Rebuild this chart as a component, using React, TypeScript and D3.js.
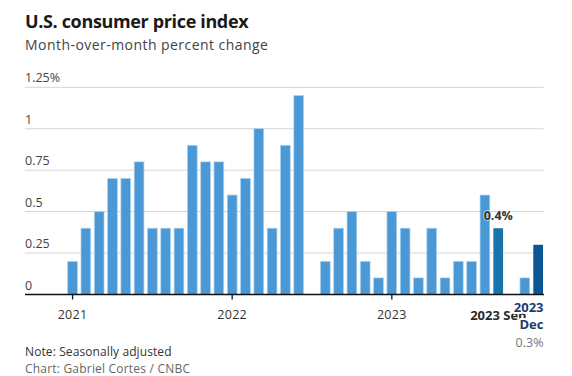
import React from "react";
import * as d3 from "d3";

const months: string[] = [];
for (const y of [2021, 2022, 2023]) {
  for (const m of ["Jan", "Feb", "Mar", "Apr", "May", "Jun", "Jul", "Aug", "Sep", "Oct", "Nov", "Dec"]) {
    months.push(`${y} ${m}`);
  }
}
const values2021 = [0.2, 0.4, 0.5, 0.7, 0.7, 0.8, 0.4, 0.4, 0.4, 0.9, 0.8, 0.8];
const values2022 = [0.6, 0.7, 1.0, 0.4, 0.9, 1.2, 0.0, 0.2, 0.4, 0.5, 0.2, 0.1];
const values2023 = [0.5, 0.4, 0.1, 0.4, 0.1, 0.2, 0.2, 0.6, 0.4, 0.0, 0.1, 0.3];
const values = [...values2021, ...values2022, ...values2023];
const yTicks = [0, 0.25, 0.5, 0.75, 1, 1.25];
const yTickLabels = ["0", "0.25", "0.5", "0.75", "1", "1.25%"];
const xTickMonths = ["2021 Jan", "2022 Jan", "2023 Jan"];
const xTickLabels = ["2021", "2022", "2023"];

const FONT = "'Open Sans', Lato, sans-serif";

export default function App() {
  const W = 572, H = 376;
  const x = d3.scaleBand<string>().domain(months).range([67.7, 543]).paddingInner(0.27).paddingOuter(0);
  const y = d3.scaleLinear().domain([0, 1.25]).range([294.5, 87.3]);
  const baseColor = "#4a98d6";
  const sepColor = "#1a72aa";
  const decColor = "#0d5593";
  const colorFor = (m: string) => (m === "2023 Sep" ? sepColor : m === "2023 Dec" ? decColor : baseColor);
  const cx = (m: string) => (x(m) as number) + x.bandwidth() / 2;
  const sepIdx = months.indexOf("2023 Sep");
  const decIdx = months.indexOf("2023 Dec");

  return (
    <svg width={W} height={H} style={{ position: "absolute", left: 0, top: 0, background: "#fff" }} fontFamily={FONT}>
      <text x={25} y={28} fontSize={18} fontWeight={700} fill="#1a1a1a" letterSpacing={-0.35}>U.S. consumer price index</text>
      <text x={25} y={50} fontSize={14} fill="#444" letterSpacing={0.45}>Month-over-month percent change</text>

      {yTicks.map((t, i) => (
        <g key={t}>
          {t !== 0 && <line x1={25} x2={543.5} y1={y(t)} y2={y(t)} stroke="#d4d4d4" strokeWidth={1} />}
          <text x={25} y={y(t) - 5} fontSize={12.5} fill="#444">{yTickLabels[i]}</text>
        </g>
      ))}

      {months.map((m, i) =>
        values[i] > 0 ? (
          <rect key={m} x={x(m)} y={y(values[i])} width={x.bandwidth()} height={y(0) - y(values[i])}
            fill={colorFor(m)} stroke={colorFor(m) === baseColor ? "#a9d2ef" : "none"} strokeWidth={0.7} />
        ) : null
      )}

      <line x1={25} x2={544} y1={y(0)} y2={y(0)} stroke="#111" strokeWidth={1.3} />
      {xTickMonths.map((m, i) => (
        <g key={m}>
          <line x1={cx(m)} x2={cx(m)} y1={y(0)} y2={y(0) + 5} stroke="#111" strokeWidth={1.3} />
          <text x={cx(m)} y={319} fontSize={12.5} textAnchor="middle" fill="#333" letterSpacing={0.3}>{xTickLabels[i]}</text>
        </g>
      ))}

      <text x={cx(months[sepIdx])} y={319.5} fontSize={13} fontWeight={700} textAnchor="middle" fill="#2a2a2a">2023 Sep</text>
      <text x={cx(months[sepIdx])} y={220} fontSize={12.5} fontWeight={700} textAnchor="middle" fill="#333"
        stroke="#fff" strokeWidth={2} paintOrder="stroke" strokeOpacity={0.6}>{values[sepIdx].toFixed(1)}%</text>

      <g fontSize={13} fontWeight={700} fill="#1b3c6d" textAnchor="end" stroke="#fff" strokeWidth={4} paintOrder="stroke" strokeLinejoin="round">
        <text x={543.5} y={311.5}>2023</text>
        <text x={543.5} y={329}>Dec</text>
      </g>
      <text x={543.5} y={346.5} fontSize={12.5} textAnchor="end" fill="#777">{values[decIdx].toFixed(1)}%</text>

      <text x={25} y={355.5} fontSize={12} fill="#333" letterSpacing={0.1}>Note: Seasonally adjusted</text>
      <text x={25} y={372.5} fontSize={12} fill="#666" letterSpacing={0.2}>Chart: Gabriel Cortes / CNBC</text>
    </svg>
  );
}
